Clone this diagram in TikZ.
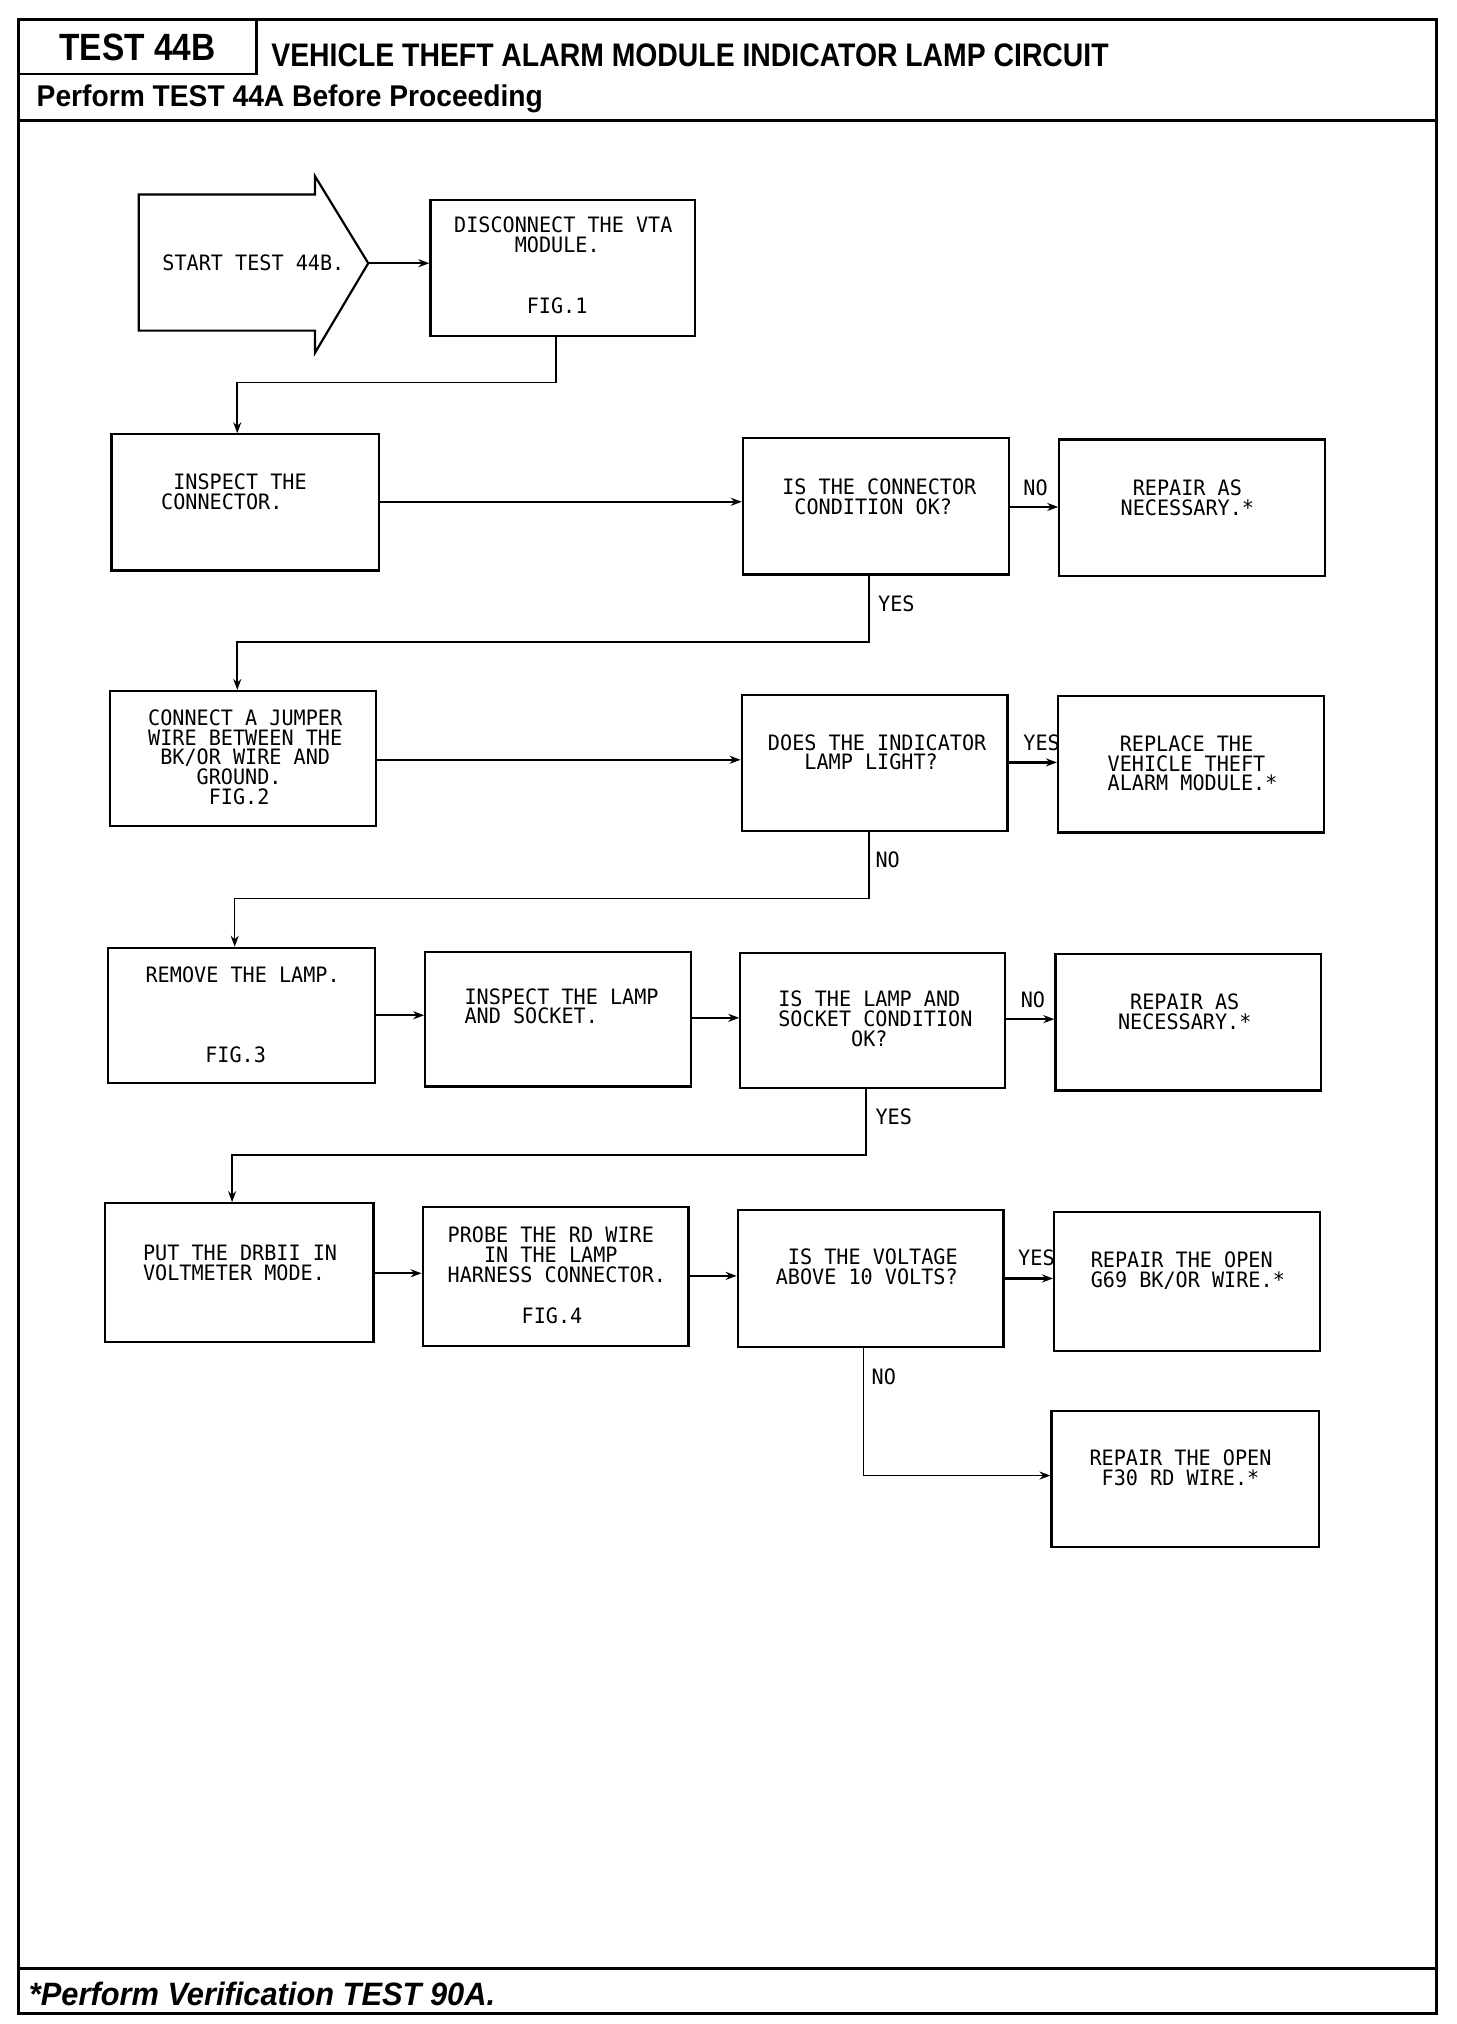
\documentclass[tikz,border=0pt]{standalone}
\usepackage{fontspec}
\usepackage{graphicx}
\setmainfont{Liberation Sans}
\newfontfamily\plotfamily[FakeStretch=0.95]{DejaVu Sans Mono}
\newcommand\plotfont{\plotfamily\fontsize{10.6}{9.85}\selectfont}
\newcommand\pd[1]{\hphantom{\ifcase#1\or X\or XX\or XXX\or XXXX\or XXXXX\or XXXXXX\fi}}
\usetikzlibrary{arrows.meta,fit,calc}
\tikzset{
  frame/.style={draw, line width=1.4pt},
  box/.style={draw, line width=1.1pt, inner sep=0pt},
  txt/.style={anchor=north west, inner sep=0pt, align=left, font=\plotfont},
  lbl/.style={anchor=west, inner sep=0pt, font=\plotfont},
  arr/.style={draw, line width=0.8pt, -{Stealth[length=5.5pt,width=4pt]}},
  harr/.style={arr, line width=1.2pt},
}
\begin{document}
\begin{tikzpicture}[x=0.6482pt,y=-0.6482pt]
\useasboundingbox (0,0) rectangle (1123,1561);
\fill[white] (0,0) rectangle (1123,1561);
% page frame and header
\draw[frame] (14,15) rectangle (1108,1553);
\draw[frame] (198,15) -- (198,57) -- (14,57);
\draw[frame] (14,93) -- (1108,93);
\draw[frame] (14,1518) -- (1108,1518);
\node[anchor=base, inner sep=0pt] (htest) at (106,47) {\fontsize{19}{19}\selectfont\bfseries\scalebox{0.88}[1]{TEST 44B}};
\node[anchor=base west, inner sep=0pt] (htitle) at (209,51) {\fontsize{16.3}{16}\selectfont\bfseries\scalebox{0.87}[1]{VEHICLE THEFT ALARM MODULE INDICATOR LAMP CIRCUIT}};
\node[anchor=base west, inner sep=0pt] (hperf) at (28,82) {\fontsize{15}{15}\selectfont\bfseries\scalebox{0.94}[1]{Perform TEST 44A Before Proceeding}};
\node[anchor=base west, inner sep=0pt] (hfoot) at (22,1547) {\fontsize{15.4}{15}\selectfont\bfseries\itshape\scalebox{1.0}[1.05]{*Perform Verification TEST 90A.}};

% start arrow
\draw[box] (107,150) -- (243,150) -- (243,136) -- (284,203) -- (243,272) -- (243,255) -- (107,255) -- cycle;
\coordinate (tip) at (284,203);
\node[txt] (tstart) at (125,196) {START TEST 44B.};

% boxes
\node[box, fit={(332,154) (536,259)}] (disc) {};
\node[box, fit={(86,335) (292,440)}] (insp1) {};
\node[box, fit={(573,338) (778,443)}] (dec1) {};
\node[box, fit={(817,339) (1022,444)}] (rep1) {};
\node[box, fit={(85,533) (290,637)}] (jump) {};
\node[box, fit={(572,536) (777,641)}] (dec2) {};
\node[box, fit={(816,537) (1021,642)}] (repl) {};
\node[box, fit={(83,731) (289,835)}] (remove) {};
\node[box, fit={(328,734) (533,838)}] (insp2) {};
\node[box, fit={(571,735) (775,839)}] (dec3) {};
\node[box, fit={(814,736) (1019,841)}] (rep2) {};
\node[box, fit={(81,928) (288,1035)}] (drb) {};
\node[box, fit={(326,931) (531,1038)}] (probe) {};
\node[box, fit={(569,933) (774,1039)}] (dec4) {};
\node[box, fit={(813,935) (1018,1042)}] (g69) {};
\node[box, fit={(811,1088) (1017,1193)}] (f30) {};

% texts
\node[txt] (tdisc) at (350,167) {DISCONNECT THE VTA\\\pd{5}MODULE.};
\node[txt] (tfig1) at (406,229) {FIG.1};
\node[txt] (tinsp1) at (124,365) {\pd{1}INSPECT THE\\CONNECTOR.};
\node[txt] (tdec1) at (603,369) {IS THE CONNECTOR\\\pd{1}CONDITION OK?};
\node[txt] (trep1) at (864,370) {\pd{1}REPAIR AS\\NECESSARY.*};
\node[txt] (tjump) at (114,547) {CONNECT A JUMPER\\WIRE BETWEEN THE\\\pd{1}BK/OR WIRE AND\\\pd{4}GROUND.\\\pd{5}FIG.2};
\node[txt] (tdec2) at (592,566) {DOES THE INDICATOR\\\pd{3}LAMP LIGHT?};
\node[txt] (trepl) at (854,567) {\pd{1}REPLACE THE\\VEHICLE THEFT\\ALARM MODULE.*};
\node[txt] (tremove) at (112,745) {REMOVE THE LAMP.};
\node[txt] (tfig3) at (158,807) {FIG.3};
\node[txt] (tinsp2) at (358,762) {INSPECT THE LAMP\\AND SOCKET.};
\node[txt] (tdec3) at (600,764) {IS THE LAMP AND\\SOCKET CONDITION\\\pd{6}OK?};
\node[txt] (trep2) at (862,766) {\pd{1}REPAIR AS\\NECESSARY.*};
\node[txt] (tdrb) at (110,960) {PUT THE DRBII IN\\VOLTMETER MODE.};
\node[txt] (tprobe) at (345,946) {PROBE THE RD WIRE\\\pd{3}IN THE LAMP\\HARNESS CONNECTOR.};
\node[txt] (tfig4) at (402,1008) {FIG.4};
\node[txt] (tdec4) at (598,963) {\pd{1}IS THE VOLTAGE\\ABOVE 10 VOLTS?};
\node[txt] (tg69) at (841,965) {REPAIR THE OPEN\\G69 BK/OR WIRE.*};
\node[txt] (tf30) at (840,1118) {REPAIR THE OPEN\\\pd{1}F30 RD WIRE.*};

% connectors
\draw[harr] (tip) -- (disc.west |- tip);
\draw[arr] (disc.south -| 429,0) -- (429,295) -| (insp1.north -| 183,0);
\draw[harr] (insp1.east |- 0,387) -- (dec1.west |- 0,387);
\draw[harr] (dec1.east |- 0,391) -- (rep1.west |- 0,391);
\draw[arr] (dec1.south -| 670,0) -- (670,495) -| (jump.north -| 183,0);
\draw[harr] (jump.east |- 0,586) -- (dec2.west |- 0,586);
\draw[harr] (dec2.east |- 0,588) -- (repl.west |- 0,588);
\draw[arr] (dec2.south -| 670,0) -- (670,693) -| (remove.north -| 181,0);
\draw[harr] (remove.east |- 0,783) -- (insp2.west |- 0,783);
\draw[harr] (insp2.east |- 0,785) -- (dec3.west |- 0,785);
\draw[harr] (dec3.east |- 0,786) -- (rep2.west |- 0,786);
\draw[arr] (dec3.south -| 668,0) -- (668,891) -| (drb.north -| 179,0);
\draw[harr] (drb.east |- 0,982) -- (probe.west |- 0,982);
\draw[harr] (probe.east |- 0,984) -- (dec4.west |- 0,984);
\draw[harr] (dec4.east |- 0,986) -- (g69.west |- 0,986);
\draw[arr] (dec4.south -| 666,0) |- (f30.west |- 0,1138);

% labels
\node[lbl] (l1) at (789,376) {NO};
\node[lbl] (l2) at (677,466) {YES};
\node[lbl] (l3) at (789,573) {YES};
\node[lbl] (l4) at (675,663) {NO};
\node[lbl] (l5) at (787,771) {NO};
\node[lbl] (l6) at (675,861) {YES};
\node[lbl] (l7) at (785,970) {YES};
\node[lbl] (l8) at (672,1062) {NO};
\end{tikzpicture}
\end{document}
